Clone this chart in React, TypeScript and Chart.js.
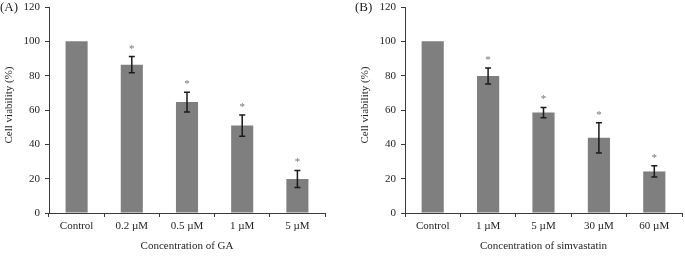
import React, { useEffect, useRef } from "react";
import { Chart, registerables } from "chart.js";

Chart.register(...registerables);

// Panel A: gambogic acid
const gaLabels = ["Control", "0.2 µM", "0.5 µM", "1 µM", "5 µM"];
const gaViability = [100, 86.4, 64.6, 50.9, 19.8];
const gaError = [0, 4.7, 5.8, 6.2, 5.0];
const gaSignificant = [false, true, true, true, true];

// Panel B: simvastatin
const simLabels = ["Control", "1 µM", "5 µM", "30 µM", "60 µM"];
const simViability = [100, 79.8, 58.5, 43.8, 24.2];
const simError = [0, 4.7, 3.0, 8.8, 3.3];
const simSignificant = [false, true, true, true, true];

const yMin = 0;
const yMax = 120;
const yStep = 20;
const yTitle = "Cell viability (%)";

const FONT = "'Liberation Serif', 'Times New Roman', serif";
const AXIS_COLOR = "#3a3a3a";
const TEXT_COLOR = "#1e1e1e";
const BAR_COLOR = "#7f7f7f";

type PanelProps = {
  labels: string[];
  values: number[];
  errors: number[];
  stars: boolean[];
  xTitle: string;
  tag: string;
  tagX: number;
  left: number;
  padLeft: number;
  padRight: number;
};

// Draws the SD whiskers, significance asterisks, the y-axis title and the panel tag.
const annotationsPlugin = {
  id: "annotations",
  afterDatasetsDraw(chart: any, _args: any, opts: any) {
    const { ctx } = chart;
    const yScale = chart.scales.y;
    const meta = chart.getDatasetMeta(0);
    const values: number[] = opts.values;
    const errors: number[] = opts.errors;
    const stars: boolean[] = opts.stars;
    ctx.save();
    meta.data.forEach((bar: any, i: number) => {
      const x = bar.x;
      const v = values[i];
      const e = errors[i];
      let top = yScale.getPixelForValue(v);
      if (e > 0) {
        const yHi = yScale.getPixelForValue(v + e);
        const yLo = yScale.getPixelForValue(v - e);
        top = yHi;
        ctx.strokeStyle = "#1a1a1a";
        ctx.lineWidth = 1.5;
        ctx.beginPath();
        ctx.moveTo(x, yHi);
        ctx.lineTo(x, yLo);
        ctx.moveTo(x - 3, yHi);
        ctx.lineTo(x + 3, yHi);
        ctx.moveTo(x - 3, yLo);
        ctx.lineTo(x + 3, yLo);
        ctx.stroke();
      }
      if (stars[i]) {
        ctx.fillStyle = "#777777";
        ctx.font = `11px ${FONT}`;
        ctx.textAlign = "center";
        ctx.textBaseline = "alphabetic";
        ctx.fillText("*", x, top - 5);
      }
    });

    // panel tag
    ctx.fillStyle = TEXT_COLOR;
    ctx.font = `13px ${FONT}`;
    ctx.textAlign = "left";
    ctx.textBaseline = "middle";
    ctx.fillText(opts.tag, opts.tagX, 8);

    // rotated y-axis title
    ctx.save();
    ctx.translate(yScale.left + 9, 105);
    ctx.rotate(-Math.PI / 2);
    ctx.font = `11px ${FONT}`;
    ctx.textAlign = "center";
    ctx.textBaseline = "middle";
    ctx.fillText(yTitle, 0, 0);
    ctx.restore();

    ctx.restore();
  },
};

function Panel(props: PanelProps) {
  const ref = useRef<HTMLCanvasElement | null>(null);

  useEffect(() => {
    if (!ref.current) return;
    const chart = new Chart(ref.current, {
      type: "bar",
      data: {
        labels: props.labels,
        datasets: [
          {
            data: props.values,
            backgroundColor: BAR_COLOR,
            borderWidth: 0,
            categoryPercentage: 1,
            barPercentage: 0.4,
          },
        ],
      },
      options: {
        responsive: false,
        animation: false,
        devicePixelRatio: 1,
        layout: {
          padding: { left: props.padLeft, right: props.padRight, top: 7, bottom: 0 },
        },
        plugins: {
          legend: { display: false },
          tooltip: { enabled: false },
          annotations: {
            values: props.values,
            errors: props.errors,
            stars: props.stars,
            tag: props.tag,
            tagX: props.tagX,
          },
        } as any,
        scales: {
          x: {
            grid: {
              display: true,
              drawOnChartArea: false,
              drawTicks: true,
              tickLength: 4,
              color: AXIS_COLOR,
              offset: true,
            },
            border: { display: true, color: AXIS_COLOR, width: 1 },
            ticks: {
              color: TEXT_COLOR,
              font: { family: FONT, size: 11 },
              padding: 3,
              maxRotation: 0,
              autoSkip: false,
            },
            title: {
              display: true,
              text: props.xTitle,
              color: TEXT_COLOR,
              font: { family: FONT, size: 11 },
              padding: { top: 0, bottom: 4 },
            },
            afterFit(scale: any) {
              scale.height = 44;
              scale.paddingLeft = 0;
              scale.paddingRight = 0;
            },
          },
          y: {
            min: yMin,
            max: yMax,
            grid: {
              display: true,
              drawOnChartArea: false,
              drawTicks: true,
              tickLength: 4,
              color: AXIS_COLOR,
            },
            border: { display: true, color: AXIS_COLOR, width: 1 },
            ticks: {
              stepSize: yStep,
              color: TEXT_COLOR,
              font: { family: FONT, size: 11 },
              padding: 5,
            },
            afterFit(scale: any) {
              scale.width = 49;
              scale.paddingTop = 0;
              scale.paddingBottom = 0;
            },
          },
        },
      },
      plugins: [annotationsPlugin],
    });
    return () => chart.destroy();
  }, []);

  return (
    <canvas
      ref={ref}
      width={340}
      height={257}
      style={{ position: "absolute", left: props.left, top: 0, width: 340, height: 257 }}
    />
  );
}

export default function App() {
  return (
    <div
      style={{
        position: "fixed",
        left: 0,
        top: 0,
        width: 685,
        height: 257,
        background: "#ffffff",
        overflow: "hidden",
      }}
    >
      <Panel
        labels={gaLabels}
        values={gaViability}
        errors={gaError}
        stars={gaSignificant}
        xTitle="Concentration of GA"
        tag="(A)"
        tagX={0}
        left={0}
        padLeft={0}
        padRight={15}
      />
      <Panel
        labels={simLabels}
        values={simViability}
        errors={simError}
        stars={simSignificant}
        xTitle="Concentration of simvastatin"
        tag="(B)"
        tagX={10}
        left={345}
        padLeft={11}
        padRight={3}
      />
    </div>
  );
}
